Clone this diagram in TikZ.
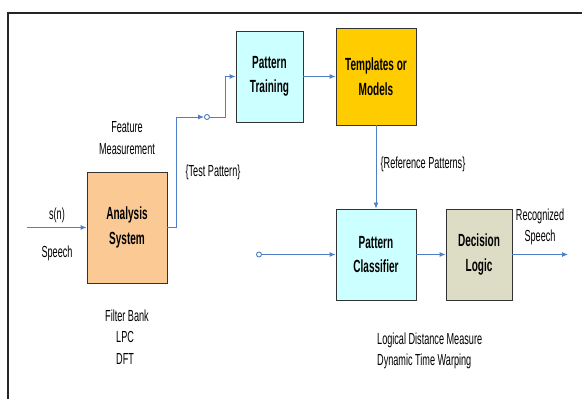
\documentclass[tikz,border=0pt]{standalone}
\usepackage{fontspec}
\setmainfont{Liberation Sans}[FakeStretch=0.57]
\usetikzlibrary{arrows.meta, positioning, calc}
\definecolor{linkblue}{HTML}{4F7FC4}
\definecolor{trainfill}{HTML}{CCFFFF}
\definecolor{modelfill}{HTML}{FFCC00}
\definecolor{analysisfill}{HTML}{FBC994}
\definecolor{logicfill}{HTML}{DDDDC6}
\tikzset{
    recogdiagram/.style={x=1pt, y=-1pt, font=\fontsize{16}{21.5}\selectfont},
    block/.style={draw=black!80, line width=0.8pt, align=center, inner sep=0pt,
        font=\fontsize{17.6}{24.5}\selectfont\bfseries},
    flow/.style={draw=linkblue, line width=0.9pt, -{Latex[length=6pt,width=5pt]}},
    contact/.style={draw=linkblue, line width=0.9pt, circle, fill=white,
        minimum size=5pt, inner sep=0pt},
    note/.style={inner sep=0pt, align=center},
}

\begin{document}
\begin{tikzpicture}[recogdiagram]
    \useasboundingbox (0,0) rectangle (582,399);
    % frame
    \draw[black!85, line width=1.8pt] (8,399) -- (8,13) -- (582,13);

    \node[block, fill=analysisfill, minimum width=80pt, minimum height=111pt] (analysis) at (127,227.5) {Analysis\\System};
    \node[block, fill=trainfill, minimum width=67pt, minimum height=91pt]     (train)    at (269.5,76.5) {Pattern\\Training};
    \node[block, fill=modelfill, minimum width=80pt, minimum height=97pt]     (models)   at (376,76.5)  {Templates or\\Models};
    \node[block, fill=trainfill, minimum width=80pt, minimum height=91pt]     (classify) at (376,254.5) {Pattern\\Classifier};
    \node[block, fill=logicfill, minimum width=66pt, minimum height=91pt]     (decide)   at (479,254.5) {Decision\\Logic};

    \node[contact] (tsw) at (207,117) {};
    \node[contact] (csw) at (259,254.5) {};
    \coordinate (in)   at (27,227.5);
    \coordinate (out)  at (568,254.5);
    \coordinate (tap)  at (176,117);
    \coordinate (rise) at (225,76.5);

    \draw[flow] (in) -- (analysis);
    \draw[flow] (analysis.east) -| (tap) -- (tsw);
    \draw[flow] (tsw) -| (rise) -- (train);
    \draw[flow] (train) -- (models);
    \draw[flow] (models) -- (classify);
    \draw[flow] (csw) -- (classify);
    \draw[flow] (classify) -- (decide);
    \draw[flow] (decide) -- (out);

    \node[note] (sn)     at (57,215)  {s(n)};
    \node[note] (speech) at (57,253)  {Speech};
    \node[note] (feat)   at (127,138) {Feature\\Measurement};
    \node[note] (test)   at (213,172) {\{Test Pattern\}};
    \node[note] (ref)    at (423,164) {\{Reference Patterns\}};
    \node[note] (recog)  at (540,227) {Recognized\\Speech};
    \node[note, align=left] (banks) at (127,337) {Filter Bank\\\hspace*{11pt}LPC\\\hspace*{11pt}DFT};
    \node[note, align=left, anchor=west] (dist) at (377,351) {Logical Distance Measure\\Dynamic Time Warping};
\end{tikzpicture}
\end{document}
